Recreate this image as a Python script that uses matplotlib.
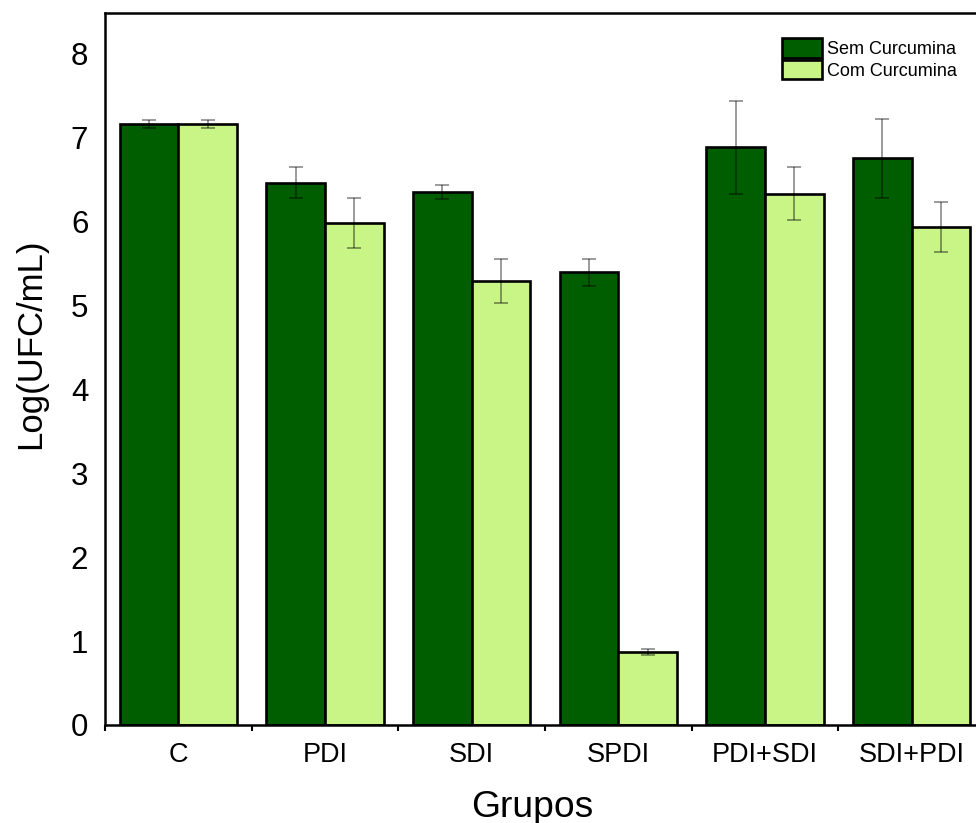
import numpy as np
import matplotlib
matplotlib.use('Agg')
import matplotlib.pyplot as plt

# values
grupos = ['C', 'PDI', 'SDI', 'SPDI', 'PDI+SDI', 'SDI+PDI']
sem_curcumina = [7.16, 6.46, 6.35, 5.39, 6.88, 6.75]
sem_err = [0.05, 0.18, 0.08, 0.16, 0.55, 0.47]
com_curcumina = [7.16, 5.98, 5.29, 0.87, 6.33, 5.93]
com_err = [0.05, 0.30, 0.26, 0.04, 0.32, 0.30]

dark = '#005e00'
light = '#c8f586'

plt.rcParams['font.family'] = ['Liberation Sans', 'DejaVu Sans']

fig = plt.figure(figsize=(9.76, 8.23), dpi=100)
ax = fig.add_axes([105 / 976, 1 - 725 / 823, 880 / 976, 712 / 823])

x = np.arange(len(grupos)) + 0.5
w = 0.4
# error bars look like half-transparent black in the original
errkw = dict(ecolor=(0, 0, 0, 0.5), elinewidth=1.1, capsize=5.2, capthick=1.1)
ax.bar(x - w / 2, sem_curcumina, w, yerr=sem_err, color=dark,
       edgecolor='black', linewidth=1.9, label='Sem Curcumina', error_kw=errkw)
ax.bar(x + w / 2, com_curcumina, w, yerr=com_err, color=light,
       edgecolor='black', linewidth=1.9, label='Com Curcumina', error_kw=errkw)

ax.set_xlim(0, len(grupos))
ax.set_ylim(0, 8.48)
ax.set_xticks(x)
ax.set_xticklabels(grupos, fontsize=19.5)
ax.set_xticks(np.arange(len(grupos) + 1), minor=True)
ax.tick_params(axis='x', which='major', length=0, pad=12)
ax.tick_params(axis='x', which='minor', length=4.5, width=1.5, direction='out')
ax.set_yticks(range(0, 9))
ax.tick_params(axis='y', length=0, pad=12, labelsize=22.5)

for s in ax.spines.values():
    s.set_linewidth(1.8)

ax.set_ylabel('Log(UFC/mL)', fontsize=25)
ax.yaxis.set_label_coords(-0.066, 0.535)
ax.set_xlabel('Grupos', fontsize=26.8)
ax.xaxis.set_label_coords(0.485, -0.091)

ax.legend(loc='upper left', bbox_to_anchor=(782 / 976, 1 - 38 / 823),
          bbox_transform=fig.transFigure, frameon=False, fontsize=13,
          borderpad=0, borderaxespad=0, handlelength=2.2, handleheight=1.3,
          labelspacing=0.1, handletextpad=0.3)

fig.savefig('out.png', dpi=100)
